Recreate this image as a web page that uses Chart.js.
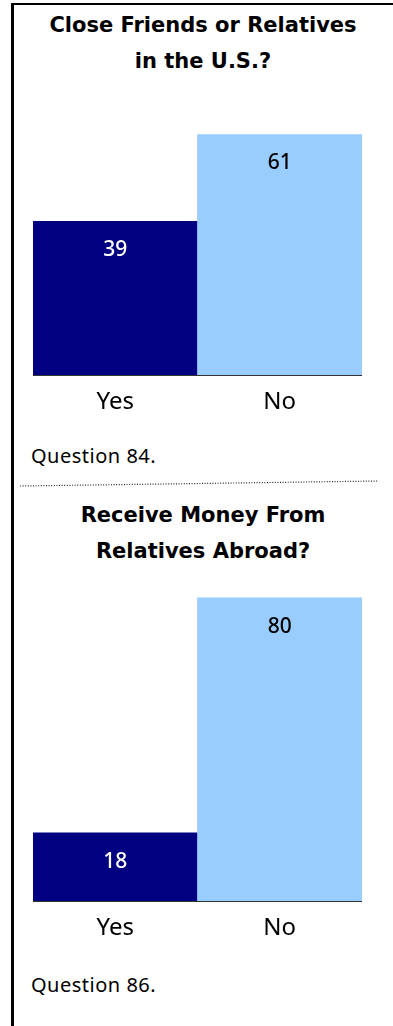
<!DOCTYPE html>
<html>
<head>
<meta charset="utf-8">
<script src="https://cdn.jsdelivr.net/npm/chart.js@4"></script>
<style>
  html, body { margin: 0; padding: 0; background: #fff; }
  body { width: 393px; height: 1026px; position: relative; overflow: hidden; }
  .frame-left { position: absolute; left: 11px; top: 3px; width: 3px; height: 1023px; background: #000; }
  .frame-top { position: absolute; left: 11px; top: 3px; width: 382px; height: 2px; background: #000; }
  .title { position: absolute; left: 13px; width: 380px; text-align: center;
           font-family: "DejaVu Sans", sans-serif; font-weight: bold; font-size: 21px; line-height: 36px; color: #000; }
  .note { position: absolute; left: 31px; font-family: "Noto Sans", sans-serif; font-size: 20px;
          line-height: 24px; letter-spacing: 0.5px; color: #000; }
  .chart-box { position: absolute; left: 33px; width: 329px; }
  svg.sep { position: absolute; left: 0; top: 470px; }
</style>
</head>
<body>
<div class="frame-left"></div>
<div class="frame-top"></div>

<div class="title" style="top:7px">Close Friends or Relatives<br>in the U.S.?</div>
<div class="chart-box" style="top:99px;height:336px"><canvas id="chartFriends"></canvas></div>
<div class="note" style="top:444px">Question 84.</div>

<svg class="sep" width="393" height="30">
  <line x1="20" y1="16" x2="378" y2="11" stroke="#222" stroke-width="1.2" stroke-dasharray="1 1.6"/>
</svg>

<div class="title" style="top:497px">Receive Money From<br>Relatives Abroad?</div>
<div class="chart-box" style="top:560px;height:401px"><canvas id="chartMoney"></canvas></div>
<div class="note" style="top:973px">Question 86.</div>

<script>
// Answer categories shared by both questions
const categories = ['Yes', 'No'];
// Q84: close friends or relatives in the U.S. (%)
const friendsValues = [39, 61];
// Q86: receive money from relatives abroad (%)
const moneyValues = [18, 80];
// Bar fills and in-bar value label colours per category
const barColors = ['#000080', '#99CCFF'];
const valueLabelColors = ['#ffffff', '#000000'];

// Writes each bar's value just inside the top of the bar
const valueLabels = {
  id: 'valueLabels',
  afterDatasetsDraw(chart) {
    const ctx = chart.ctx;
    const meta = chart.getDatasetMeta(0);
    const data = chart.data.datasets[0].data;
    ctx.save();
    ctx.font = '500 21px "Noto Sans", sans-serif';
    ctx.textAlign = 'center';
    ctx.textBaseline = 'middle';
    meta.data.forEach((bar, i) => {
      ctx.fillStyle = valueLabelColors[i];
      ctx.fillText(String(data[i]), bar.x, bar.y + 29);
    });
    ctx.restore();
  }
};

function makeChart(id, values, yMax, axisHeight) {
  return new Chart(document.getElementById(id), {
    type: 'bar',
    data: {
      labels: categories,
      datasets: [{
        data: values,
        backgroundColor: barColors,
        borderWidth: 0,
        barPercentage: 1,
        categoryPercentage: 1
      }]
    },
    options: {
      responsive: true,
      maintainAspectRatio: false,
      animation: false,
      layout: { padding: 0 },
      plugins: { legend: { display: false }, tooltip: { enabled: false } },
      scales: {
        x: {
          grid: { display: false },
          border: { display: true, color: '#333', width: 1 },
          ticks: { color: '#000', padding: 5, font: { family: 'Noto Sans', size: 24 } },
          afterFit(scale) { scale.height = axisHeight; }
        },
        y: { display: false, min: 0, max: yMax }
      }
    },
    plugins: [valueLabels]
  });
}

makeChart('chartFriends', friendsValues, 70, 60);
makeChart('chartMoney', moneyValues, 90, 60);
</script>
</body>
</html>
